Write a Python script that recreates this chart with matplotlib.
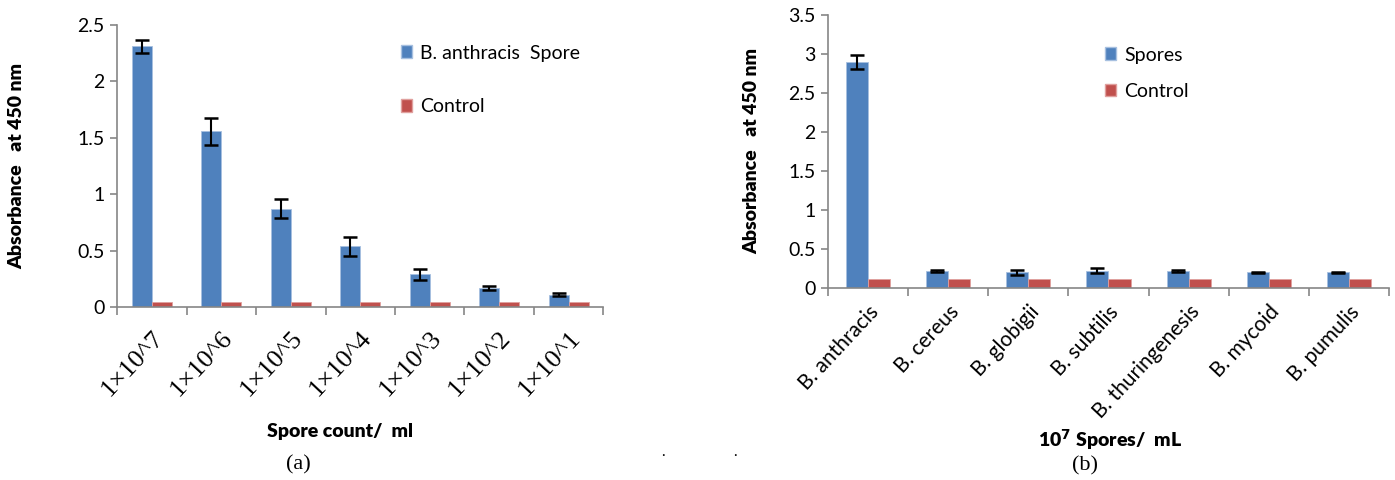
import numpy as np
import matplotlib
matplotlib.use('Agg')
import matplotlib.pyplot as plt
from matplotlib.patches import Patch
from matplotlib.transforms import blended_transform_factory

# panel (a)
counts = ['1×10^7', '1×10^6', '1×10^5', '1×10^4', '1×10^3', '1×10^2', '1×10^1']
anthracis = [2.31, 1.56, 0.87, 0.54, 0.29, 0.17, 0.11]
anthracis_err = [0.06, 0.12, 0.085, 0.085, 0.05, 0.02, 0.01]
control_a = [0.04, 0.04, 0.04, 0.04, 0.04, 0.04, 0.04]

# panel (b)
species = ['B. anthracis', 'B. cereus', 'B. globigii', 'B. subtilis',
           'B. thuringenesis', 'B. mycoid', 'B. pumulis']
spores = [2.90, 0.22, 0.20, 0.22, 0.22, 0.20, 0.20]
spores_err = [0.09, 0.01, 0.03, 0.03, 0.01, 0.01, 0.01]
control_b = [0.11, 0.11, 0.11, 0.11, 0.11, 0.11, 0.11]

BLUE = '#4F81BD'
RED = '#C0504D'
GRID = '#868686'
SANS = ['Lato', 'DejaVu Sans']
SERIF = ['Liberation Serif', 'DejaVu Serif']

plt.rcParams['font.family'] = SANS

fig = plt.figure(figsize=(13.95, 4.8), dpi=100)
ax1 = fig.add_axes([0.0839, 0.3604, 0.3487, 0.5875])
ax2 = fig.add_axes([0.5935, 0.4, 0.4022, 0.5688])


def draw(ax, labels, vals, errs, ctrl, ymax, w, label_font, label_size, pad):
    x = np.arange(len(labels))
    ax.bar(x - w / 2, vals, w, color=BLUE, edgecolor='#a7c0e0', linewidth=0.6, zorder=2)
    ax.bar(x + w / 2, ctrl, w, color=RED, edgecolor='#e0a09e', linewidth=0.6, zorder=2)
    ax.errorbar(x - w / 2, vals, yerr=errs, fmt='none', ecolor='black',
                elinewidth=1.5, capsize=5, capthick=1.8, zorder=3)
    ax.set_xlim(-0.5, len(labels) - 0.5)
    ax.set_ylim(0, ymax)
    yt = np.arange(0, ymax + 0.01, 0.5)
    ax.set_yticks(yt)
    ax.set_yticklabels(['%g' % v for v in yt])
    ax.set_xticks(x)
    ax.set_xticklabels(labels, rotation=47, ha='right', rotation_mode='anchor',
                       family=label_font, fontsize=label_size)
    ax.set_xticks(np.arange(-0.5, len(labels)), minor=True)
    ax.tick_params(axis='x', which='major', length=0, pad=pad)
    ax.tick_params(axis='x', which='minor', length=6, width=1.2, color=GRID, direction='out')
    ax.tick_params(axis='y', length=5, width=1.2, color=GRID, direction='out',
                   labelsize=14, pad=4)
    for s in ['top', 'right']:
        ax.spines[s].set_visible(False)
    for s in ['left', 'bottom']:
        ax.spines[s].set_color(GRID)
        ax.spines[s].set_linewidth(1.2)
    ax.set_ylabel('Absorbance   at 450 nm', fontsize=14, fontweight='heavy')


draw(ax1, counts, anthracis, anthracis_err, control_a, 2.5, 0.29, SERIF, 19, 14)
draw(ax2, species, spores, spores_err, control_b, 3.5, 0.275, SANS, 15, 10)

ax1.yaxis.set_label_coords(25 / 1395, 0.5, transform=blended_transform_factory(fig.transFigure, ax1.transAxes))
ax2.yaxis.set_label_coords(760 / 1395, 0.5, transform=blended_transform_factory(fig.transFigure, ax2.transAxes))

fig.text(340 / 1395, 1 - 432 / 480, 'Spore count/  ml', ha='center', va='center',
         fontsize=14, fontweight='heavy')
fig.text(1110 / 1395, 1 - 440 / 480, '10$^{\\mathbf{7}}$ Spores/  mL', ha='center', va='center',
         fontsize=14, fontweight='heavy')
fig.text(298 / 1395, 1 - 465 / 480, '(a)', ha='center', va='center', fontsize=16, family=SERIF)
fig.text(1085 / 1395, 1 - 466 / 480, '(b)', ha='center', va='center', fontsize=16, family=SERIF)
fig.text(663 / 1395, 1 - 452 / 480, '.', ha='center', va='center', fontsize=11)
fig.text(735 / 1395, 1 - 452 / 480, '.', ha='center', va='center', fontsize=11)

h1 = [Patch(facecolor=BLUE, edgecolor='#a7c0e0'), Patch(facecolor=RED, edgecolor='#e0a09e')]
fig.legend(h1, ['B. anthracis  Spore', 'Control'], loc='upper left',
           bbox_to_anchor=(383 / 1395, 1 - 27 / 480), frameon=False, fontsize=14,
           handlelength=0.6, handleheight=0.6, handletextpad=0.4, labelspacing=1.9)
fig.legend(h1, ['Spores', 'Control'], loc='upper left',
           bbox_to_anchor=(1087 / 1395, 1 - 29 / 480), frameon=False, fontsize=14,
           handlelength=0.6, handleheight=0.6, handletextpad=0.4, labelspacing=1.0)

fig.savefig('out.png', dpi=100)
